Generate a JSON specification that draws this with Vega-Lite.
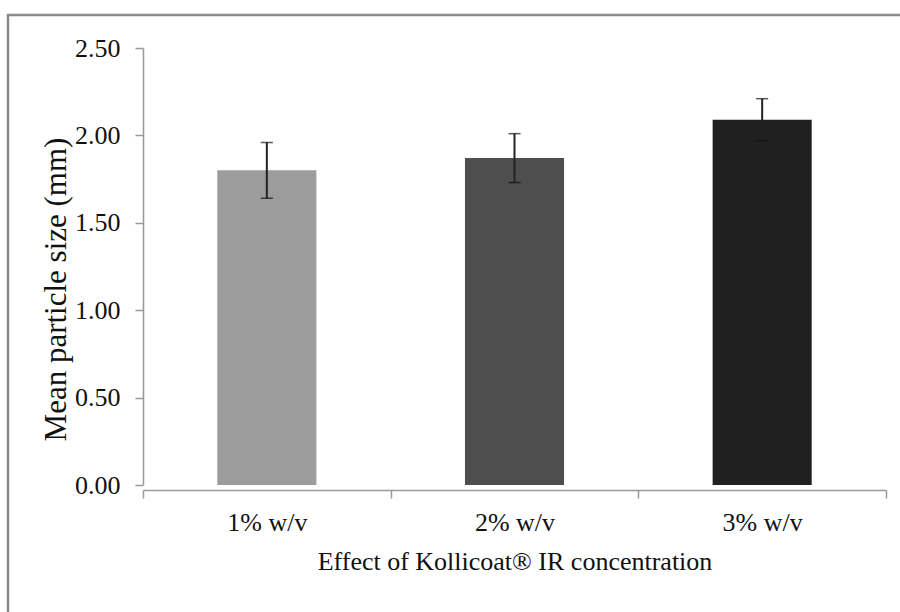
{
  "$schema": "https://vega.github.io/schema/vega-lite/v6.json",
  "autosize": "none",
  "width": 897,
  "height": 602,
  "padding": {"left": 8, "top": 15, "right": -5, "bottom": -5},
  "background": "white",
  "config": {
    "view": {"stroke": "#8a8a8a", "strokeWidth": 2.5},
    "font": "Liberation Serif",
    "axis": {
      "domainColor": "#999999",
      "domainWidth": 1.5,
      "tickColor": "#999999",
      "tickWidth": 1.5,
      "tickSize": 8,
      "grid": false,
      "labelFont": "Liberation Serif",
      "labelFontSize": 26,
      "labelColor": "#111111",
      "titleFont": "Liberation Serif",
      "titleFontSize": 26,
      "titleFontWeight": "normal",
      "titleColor": "#111111"
    }
  },
  "data": {
    "values": [
      {"conc": "1% w/v", "mean": 1.80, "lo": 1.64, "hi": 1.96},
      {"conc": "2% w/v", "mean": 1.87, "lo": 1.73, "hi": 2.01},
      {"conc": "3% w/v", "mean": 2.09, "lo": 1.97, "hi": 2.21}
    ]
  },
  "encoding": {
    "x": {
      "field": "conc",
      "type": "nominal",
      "sort": null,
      "scale": {"range": [135, 878], "paddingInner": 0, "paddingOuter": 0},
      "axis": {
        "title": "Effect of Kollicoat® IR concentration",
        "labelAngle": 0,
        "offset": -127,
        "tickBand": "extent",
        "labelPadding": 11,
        "titlePadding": 13
      }
    }
  },
  "layer": [
    {
      "mark": {"type": "bar", "width": {"band": 0.4}},
      "encoding": {
        "y": {
          "field": "mean",
          "type": "quantitative",
          "scale": {"domain": [0, 2.5], "range": [470, 33], "nice": false, "zero": true},
          "axis": {
            "title": "Mean particle size (mm)",
            "titleFontSize": 31,
            "titleY": 274,
            "values": [0, 0.5, 1, 1.5, 2, 2.5],
            "format": ".2f",
            "offset": -135,
            "labelPadding": 15,
            "titlePadding": 2
          }
        },
        "fill": {
          "field": "conc",
          "type": "nominal",
          "sort": null,
          "scale": {"range": ["#9c9c9c", "#4e4e4e", "#202020"]},
          "legend": null
        }
      }
    },
    {
      "mark": {"type": "rule", "color": "#222222", "strokeWidth": 2},
      "encoding": {
        "y": {"field": "lo", "type": "quantitative"},
        "y2": {"field": "hi"}
      }
    },
    {
      "mark": {"type": "tick", "color": "#111111", "thickness": 1.5, "size": 12},
      "encoding": {"y": {"field": "hi", "type": "quantitative"}}
    },
    {
      "mark": {"type": "tick", "color": "#111111", "thickness": 1.5, "size": 12},
      "encoding": {"y": {"field": "lo", "type": "quantitative"}}
    }
  ]
}
